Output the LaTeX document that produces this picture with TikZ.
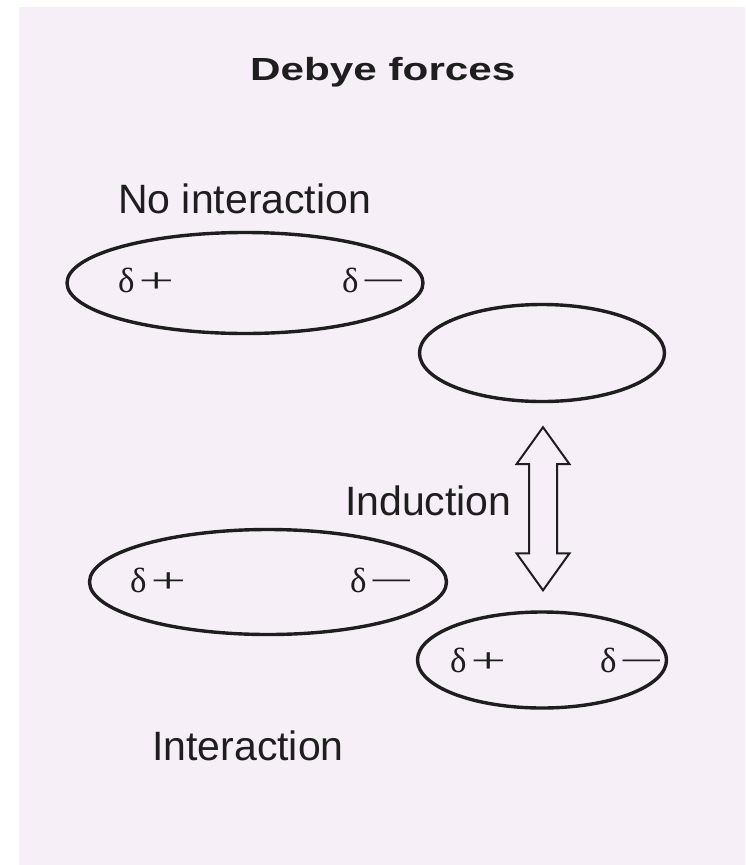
\documentclass[tikz,border=0pt]{standalone}
\usepackage{fontspec}
\setmainfont{Liberation Sans}
\newfontfamily\dfont{Liberation Serif}
\usetikzlibrary{shapes.geometric,calc}
\definecolor{bgpink}{RGB}{247,239,247}
\definecolor{inkc}{RGB}{30,30,30}
\newcommand{\dplus}{δ\kern4pt\scalebox{1.8}[1]{+}}
\newcommand{\dminus}{δ\kern2pt\scalebox{2.3}[1]{−}}
\tikzset{
  mol/.style={ellipse, draw=inkc, line width=3.4pt, inner sep=0pt},
  lbl/.style={anchor=base west, inner sep=0pt, text=inkc, font=\fontsize{41}{41}\selectfont},
  chg/.style={anchor=base west, inner sep=0pt, text=inkc, font=\dfont\fontsize{35}{35}\selectfont},
  bigarrow/.style={draw=inkc, line width=2pt, fill=bgpink, line join=miter}
}
\begin{document}
\begin{tikzpicture}[x=1pt,y=-1pt]
\useasboundingbox (0,0) rectangle (745,865);
\fill[white] (0,0) rectangle (745,865);
\fill[bgpink] (19,7) rectangle (745,865);

\node[anchor=base west, inner sep=0pt, text=inkc, font=\fontsize{32}{32}\selectfont\bfseries] (title) at (250,80) {\scalebox{1.32}[1]{Debye forces}};
\node[lbl] (noint) at (118,213) {No interaction};
\node[lbl] (induct) at (345,515) {Induction};
\node[lbl] (inter) at (152,760) {Interaction};

\node[mol, minimum width=356pt, minimum height=101pt] (e1) at (245,283) {};
\node[mol, minimum width=245pt, minimum height=97pt] (e2) at (542,353) {};
\node[mol, minimum width=357pt, minimum height=105pt] (e3) at (268,582) {};
\node[mol, minimum width=249pt, minimum height=96pt] (e4) at (542,660) {};

\node[chg] (e1p) at (118,292) {\dplus};
\node[chg] (e1m) at (342,292) {\dminus};
\node[chg] (e3p) at (130,592) {\dplus};
\node[chg] (e3m) at (350,592) {\dminus};
\node[chg] (e4p) at (450,672) {\dplus};
\node[chg] (e4m) at (600,672) {\dminus};

\coordinate (atop) at ($(e2.south)+(1,24)$);
\coordinate (abot) at ($(e4.north)+(1,-20)$);
\draw[bigarrow] (atop) -- ++(26.5,37) -- ++(-12.5,0) -- ($(abot)+(14,-37)$) -- ++(12.5,0) -- (abot)
  -- ++(-26.5,-37) -- ++(12.5,0) -- ($(atop)+(-14,37)$) -- ++(-12.5,0) -- cycle;
\end{tikzpicture}
\end{document}
